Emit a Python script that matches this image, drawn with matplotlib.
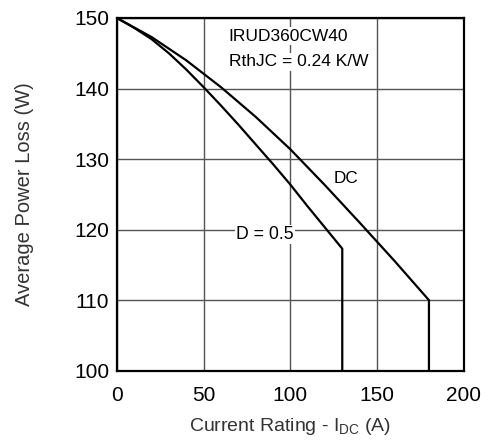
import matplotlib
matplotlib.use("Agg")
import matplotlib.pyplot as plt

plt.rcParams['font.family'] = ['Liberation Sans', 'DejaVu Sans']
plt.rcParams['mathtext.fontset'] = 'custom'
plt.rcParams['mathtext.rm'] = 'Liberation Sans'
plt.rcParams['mathtext.it'] = 'Liberation Sans'

# Data
dc_current = [0, 20, 40, 60, 80, 100, 120, 140, 160, 180, 180]
dc_power = [150, 147.3, 144.0, 140.2, 136.0, 131.4, 126.3, 121.0, 115.6, 110.0, 100]

d05_current = [0, 10, 20, 30, 40, 50, 60, 70, 80, 90, 100, 110, 120, 130, 130]
d05_power = [150, 148.6, 147.0, 145.0, 142.7, 140.2, 137.6, 134.9, 132.1, 129.3,
             126.4, 123.3, 120.3, 117.3, 100]

x_ticks = [0, 50, 100, 150, 200]
y_ticks = [100, 110, 120, 130, 140, 150]

fig = plt.figure(figsize=(4.87, 4.42), dpi=100)
ax = fig.add_axes([0.240, 0.1613, 0.712, 0.798])

ax.set_xlim(0, 200)
ax.set_ylim(100, 150)
ax.set_xticks(x_ticks)
ax.set_yticks(y_ticks)
ax.grid(True, color='#555555', linewidth=1.0)
ax.set_axisbelow(True)
ax.tick_params(length=0, labelsize=15, colors='black')
ax.tick_params(axis='x', pad=11)
ax.tick_params(axis='y', pad=5.5)

for s in ax.spines.values():
    s.set_linewidth(1.6)
    s.set_color('black')

ax.plot(dc_current, dc_power, color='black', linewidth=1.6, zorder=3)
ax.plot(d05_current, d05_power, color='black', linewidth=1.6, zorder=3)

bbox = dict(facecolor='white', edgecolor='none', pad=1)
ax.text(64.5, 147.4, 'IRUD360CW40', fontsize=12.5, ha='left', va='center', bbox=bbox, zorder=4)
ax.text(64.5, 143.8, 'RthJC = 0.24 K/W', fontsize=12.5, ha='left', va='center', bbox=bbox, zorder=4)
ax.text(132, 127.3, 'DC', fontsize=12.3, ha='center', va='center', bbox=bbox, zorder=4)
ax.text(85.5, 119.3, 'D = 0.5', fontsize=12.7, ha='center', va='center', bbox=bbox, zorder=4)

ax.set_xlabel(r'Current Rating - I$_{\mathrm{DC}}$ (A)', fontsize=14, color='#333333', labelpad=8)
ax.set_ylabel('Average Power Loss (W)', fontsize=14.5, color='#333333', labelpad=29)

fig.savefig('out.png', dpi=100)
